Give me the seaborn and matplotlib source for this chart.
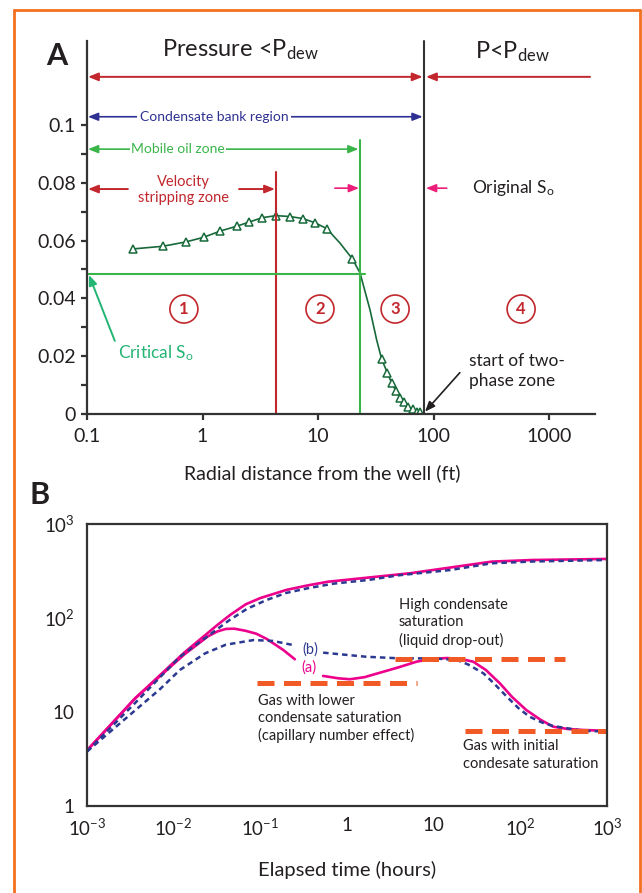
import numpy as np
import pandas as pd
import matplotlib.pyplot as plt
import seaborn as sns
from matplotlib.lines import Line2D

sns.set_theme(style="white")
plt.rcParams['font.family'] = ['Lato', 'DejaVu Sans']
plt.rcParams['mathtext.default'] = 'regular'

# ---- Panel A: oil saturation vs radial distance ----
dist_markers = [0.252, 0.452, 0.716, 1.02, 1.43, 2.0, 2.54, 3.29, 4.33, 5.69, 7.38,
                9.48, 11.9, 19.8, 35.6, 39.8, 43.5, 47.1, 51.3, 55.6, 60.6, 66.1, 72.4, 76.4]
so_markers = [0.0571, 0.0580, 0.0595, 0.0611, 0.0633, 0.0650, 0.0664, 0.0679, 0.0686, 0.0683,
              0.0676, 0.0661, 0.0641, 0.0537, 0.0189, 0.0143, 0.0106, 0.0081, 0.0054, 0.0040,
              0.0025, 0.0016, 0.0008, 0.0006]
dist_curve = [0.252, 0.452, 0.716, 1.02, 1.43, 2.0, 2.54, 3.29, 4.33, 5.69, 7.38, 9.48, 11.9,
              15.5, 19.8, 23.1, 28.2, 32.2, 35.6, 39.8, 43.5, 47.1, 51.3, 55.6, 60.6, 66.1,
              72.4, 76.4, 80]
so_curve = [0.0571, 0.0580, 0.0595, 0.0611, 0.0633, 0.0650, 0.0664, 0.0679, 0.0686, 0.0683,
            0.0676, 0.0661, 0.0641, 0.0591, 0.0537, 0.0488, 0.0360, 0.0256, 0.0189, 0.0143,
            0.0106, 0.0081, 0.0054, 0.0040, 0.0025, 0.0016, 0.0008, 0.0006, 0.0]
velocity_edge = 4.33
mobile_edge = 23.1
dew_edge = 83
critical_so = 0.0484
zone_x = [0.69, 10.4, 46.5, 573]
zone_labels = ['1', '2', '3', '4']
a_xticks = [0.1, 1, 10, 100, 1000]
a_xlabels = ['0.1', '1', '10', '100', '1000']
a_yticks = [0, 0.02, 0.04, 0.06, 0.08, 0.1]
a_ylabels = ['0', '0.02', '0.04', '0.06', '0.08', '0.1']

# ---- Panel B: pseudo-pressure derivative vs elapsed time ----
t_top = [0.001, 0.0036, 0.0133, 0.0318, 0.045, 0.068, 0.1, 0.2, 0.35, 0.6, 5.3, 47, 138, 1000]
pink_top = [3.9, 14, 43, 84, 108, 140, 163, 199, 222, 243, 299, 398, 414, 425]
t_blue_top = [0.001, 0.0036, 0.0118, 0.044, 0.07, 0.117, 0.2, 0.35, 0.7, 1.77, 4, 15.6, 46.7,
              138, 1000]
blue_top = [3.8, 12.5, 38.7, 95, 125, 155, 185, 207, 232, 254, 285, 324, 382, 399, 414]
t_a1 = [0.001, 0.0036, 0.0133, 0.025, 0.032, 0.04, 0.05, 0.068, 0.09, 0.118, 0.184, 0.25]
curve_a1 = [3.9, 14, 41, 64, 72, 76.5, 77, 73, 68, 60, 45.7, 36.4]
t_a2 = [0.53, 0.8, 1.08, 1.6, 2.62, 4, 6.34, 9, 14.1, 20, 28.6, 40, 58, 80, 117, 170, 239,
        350, 530, 1000]
curve_a2 = [24.2, 22.8, 22.3, 23.5, 26.8, 30, 34.3, 36.5, 37.5, 36.8, 34.3, 28, 20.2, 14.5,
            10.5, 8.3, 6.98, 6.6, 6.44, 6.3]
t_b1 = [0.001, 0.007, 0.0118, 0.023, 0.04, 0.084, 0.14, 0.24]
curve_b1 = [3.8, 17.6, 28, 42, 52, 58.3, 57, 51.5]
t_b2 = [0.53, 1.67, 4.1, 10, 18.6, 25, 37.5, 50, 69.6, 95, 128, 180, 239, 530, 1000]
curve_b2 = [42.8, 38.7, 37.2, 37.2, 35.7, 32, 25.8, 20, 14.6, 11, 8.9, 7.7, 7.1, 6.3, 6.2]
lower_sat_t = [0.0906, 6.34]
lower_sat = [20.5, 20.5]
high_sat_t = [3.57, 326]
high_sat = [36.9, 36.9]
initial_sat_t = [22.9, 1000]
initial_sat = [6.33, 6.33]
b_xticks = [1e-3, 1e-2, 1e-1, 1, 10, 1e2, 1e3]
b_xlabels = ['10$^{-3}$', '10$^{-2}$', '10$^{-1}$', '1', '10', '10$^{2}$', '10$^{3}$']
b_yticks = [1, 10, 1e2, 1e3]
b_ylabels = ['1', '10', '10$^{2}$', '10$^{3}$']

red = '#c1272d'
blue = '#2e3192'
lgreen = '#39b54a'
tgreen = '#22b573'
dgreen = '#17693a'
pink = '#ec008c'
navy = '#2b3990'
orange = '#f15a24'
dark = '#231f20'
spine = '#333333'

W, H = 642, 893
fig = plt.figure(figsize=(W / 100, H / 100), dpi=100)

# ================= Panel A =================
axA = fig.add_axes([87 / W, 1 - 414 / H, (595 - 87) / W, (414 - 41) / H])
axA.set_xscale('log')
axA.set_xlim(0.1, 2500)
axA.set_ylim(0, 0.129)
for s in ['top', 'right']:
    axA.spines[s].set_visible(False)
for s in ['left', 'bottom']:
    axA.spines[s].set_color(spine)
    axA.spines[s].set_linewidth(1.6)

sns.lineplot(x=dist_curve, y=so_curve, ax=axA, color=dgreen, lw=1.2, errorbar=None)
sns.lineplot(x=dist_markers, y=so_markers, ax=axA, color=dgreen, linestyle='none', marker='^',
             markersize=6, markerfacecolor='white', markeredgecolor=dgreen,
             markeredgewidth=1.1, errorbar=None)

axA.plot([velocity_edge, velocity_edge], [0, 0.0837], color=red, lw=1.5)
axA.plot([mobile_edge, mobile_edge], [0, 0.0948], color=lgreen, lw=1.5)
axA.plot([0.1, 25.5], [critical_so, critical_so], color=lgreen, lw=1.5)
axA.plot([dew_edge, dew_edge], [0, 0.129], color=spine, lw=1.5, clip_on=False)

axA.set_xticks(a_xticks)
axA.set_xticklabels(a_xlabels)
axA.xaxis.set_minor_locator(plt.NullLocator())
axA.set_yticks(a_yticks)
axA.set_yticklabels(a_ylabels)
axA.set_yticks([0.01, 0.03, 0.05, 0.07, 0.09], minor=True)
axA.tick_params(axis='both', which='both', direction='out', length=4, width=1.6,
                color=spine, labelsize=14, labelcolor=dark, pad=4)
axA.tick_params(axis='y', which='both', left=True)
axA.tick_params(axis='x', which='major', bottom=True, pad=6)
axA.set_xlabel('Radial distance from the well (ft)', fontsize=14, color=dark)
axA.xaxis.set_label_coords(0.4626, -0.134)
axA.set_ylabel('')


def arrow(ax, xy, xytext, color, style='-|>', lw=1.4):
    ax.annotate('', xy=xy, xytext=xytext, xycoords='data', textcoords='data',
                arrowprops=dict(arrowstyle=style + ',head_length=0.5,head_width=0.2',
                                color=color, lw=lw, shrinkA=0, shrinkB=0),
                annotation_clip=False)


arrow(axA, (dew_edge * 0.97, 0.1166), (0.102, 0.1166), red, '<|-|>')
arrow(axA, (86, 0.1166), (2265, 0.1166), red)
arrow(axA, (dew_edge * 0.97, 0.1028), (0.102, 0.1028), blue, '<|-|>', lw=1.2)
axA.text(1.26, 0.1028, 'Condensate bank region', color=blue, fontsize=10, ha='center',
         va='center', bbox=dict(fc='white', ec='none', pad=2))
arrow(axA, (mobile_edge * 0.97, 0.0916), (0.102, 0.0916), lgreen, '<|-|>', lw=1.2)
axA.text(0.614, 0.0916, 'Mobile oil zone', color=lgreen, fontsize=10, ha='center',
         va='center', bbox=dict(fc='white', ec='none', pad=1))
arrow(axA, (0.102, 0.0778), (0.226, 0.0778), red)
arrow(axA, (velocity_edge * 0.98, 0.0778), (2.07, 0.0778), red)
axA.text(0.678, 0.0775, 'Velocity\nstripping zone', color=red, fontsize=10.5, ha='center',
         va='center', linespacing=1.25)
arrow(axA, (mobile_edge * 0.98, 0.0781), (14.0, 0.0781), '#ed1e79', lw=1.2)
arrow(axA, (86, 0.0781), (130, 0.0781), '#ed1e79', lw=1.2)
axA.text(215, 0.0782, 'Original S$_{o}$', color=dark, fontsize=12.5, ha='left', va='center')

for zx, zl in zip(zone_x, zone_labels):
    axA.text(zx, 0.0363, zl, color=red, fontsize=12, fontweight='bold', ha='center',
             va='center', bbox=dict(boxstyle='circle,pad=0.36', fc='white', ec=red, lw=1.2))

axA.text(0.185, 0.0211, 'Critical S$_{o}$', color=tgreen, fontsize=12.5, ha='left',
         va='center')
arrow(axA, (0.104, 0.0481), (0.174, 0.0253), tgreen, lw=1.4)
axA.text(203, 0.0149, 'start of two-\nphase zone', color=dark, fontsize=12.5, ha='left',
         va='center', linespacing=1.3)
arrow(axA, (84.4, 0.0008), (169, 0.0143), dark, lw=1.2)

axA.text(2.11, 0.126, 'Pressure <P$_{dew}$', color=dark, fontsize=17, ha='center',
         va='center')
axA.text(479, 0.1253, 'P<P$_{dew}$', color=dark, fontsize=17, ha='center', va='center')

fig.text(57 / W, 1 - 56 / H, 'A', fontsize=22, fontweight='bold', color=dark,
         ha='center', va='center')

# ================= Panel B =================
axB = fig.add_axes([87 / W, 1 - 806 / H, (607 - 87) / W, (806 - 524) / H])
axB.set_xscale('log')
axB.set_yscale('log')
axB.set_xlim(1e-3, 1e3)
axB.set_ylim(1, 1e3)
for s in axB.spines.values():
    s.set_color(spine)
    s.set_linewidth(1.6)

dash_ls = (0, (2.2, 1.6))
sns.lineplot(x=t_top, y=pink_top, ax=axB, color=pink, lw=1.9, errorbar=None)
sns.lineplot(x=t_a1, y=curve_a1, ax=axB, color=pink, lw=1.9, errorbar=None)
sns.lineplot(x=t_a2, y=curve_a2, ax=axB, color=pink, lw=1.9, errorbar=None)
sns.lineplot(x=t_blue_top, y=blue_top, ax=axB, color=navy, lw=1.8, linestyle=dash_ls,
             errorbar=None)
sns.lineplot(x=t_b1, y=curve_b1, ax=axB, color=navy, lw=1.8, linestyle=dash_ls,
             errorbar=None)
sns.lineplot(x=t_b2, y=curve_b2, ax=axB, color=navy, lw=1.8, linestyle=dash_ls,
             errorbar=None)
orange_ls = (0, (3.4, 1.9))
for tx, ty in [(lower_sat_t, lower_sat), (high_sat_t, high_sat), (initial_sat_t, initial_sat)]:
    sns.lineplot(x=tx, y=ty, ax=axB, color=orange, lw=3.6, linestyle=orange_ls,
                 errorbar=None)

axB.set_xticks(b_xticks)
axB.set_xticklabels(b_xlabels)
axB.set_yticks(b_yticks)
axB.set_yticklabels(b_ylabels)
axB.xaxis.set_minor_locator(plt.NullLocator())
axB.yaxis.set_minor_locator(plt.NullLocator())
axB.tick_params(axis='both', which='major', direction='in', length=8, width=1.6,
                color=spine, labelsize=13.5, labelcolor=dark)
axB.tick_params(axis='x', pad=8)
axB.tick_params(axis='y', pad=9)
axB.set_xlabel('Elapsed time (hours)', fontsize=14.5, color=dark, labelpad=16)
axB.set_ylabel('')

axB.text(3.98, 89, 'High condensate\nsaturation\n(liquid drop-out)', color=dark,
         fontsize=10.5, ha='left', va='center', linespacing=1.3)
axB.text(0.373, 45.7, '(b)', color=navy, fontsize=10.5, ha='center', va='center')
axB.text(0.363, 29.4, '(a)', color=pink, fontsize=10.5, ha='center', va='center')
axB.text(0.093, 8.53, 'Gas with lower\ncondensate saturation\n(capillary number effect)',
         color=dark, fontsize=10.5, ha='left', va='center', linespacing=1.3)
axB.text(21.9, 3.49, 'Gas with initial\ncondesate saturation', color=dark,
         fontsize=10.5, ha='left', va='center', linespacing=1.3)

fig.text(40 / W, 1 - 495 / H, 'B', fontsize=22, fontweight='bold', color=dark,
         ha='center', va='center')

# orange frame
fx, fy, fr = 14 / W, 1 - 10 / H, 640 / W
for xs, ys in [([fx, fx], [0, fy]), ([fx, fr], [fy, fy]), ([fr, fr], [fy, 0])]:
    fig.add_artist(Line2D(xs, ys, transform=fig.transFigure, color='#f37021', lw=2))

fig.savefig('out.png', dpi=100)
